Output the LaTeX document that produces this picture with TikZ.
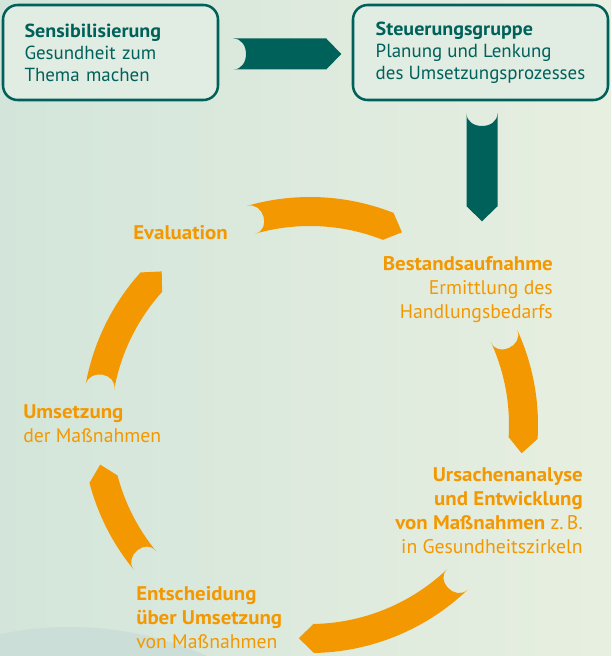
\documentclass[tikz,border=0pt]{standalone}
\usepackage{fontspec}
\setmainfont[BoldFeatures={FakeStretch=1.06}]{PT Sans}
\usetikzlibrary{calc}

\definecolor{leadgreen}{HTML}{00615A}
\definecolor{cycleorange}{HTML}{F39800}
\definecolor{bgleft}{HTML}{D3E5DA}
\definecolor{bgright}{HTML}{E7EFE0}
\definecolor{bgdisc}{HTML}{CBDED8}
\definecolor{boxfill}{HTML}{E1ECE2}

\tikzset{
  stepbox/.style={draw=leadgreen, line width=1.9pt, rounded corners=11pt, fill=boxfill,
    text=leadgreen, align=left, inner xsep=15.75pt, minimum height=71.25pt,
    font=\fontsize{14.2}{16.5}\selectfont},
  phase/.style={text=cycleorange, inner sep=0pt, font=\fontsize{14.8}{18}\selectfont},
}

% band arrow along the cycle: tail angle, head angle, tip angle
\newcommand{\cyclearrow}[3]{%
  \fill[cycleorange] (#1:\rout) arc[start angle=#1, end angle=#2, radius=\rout]
    -- (#3:\rmid) -- (#2:\rin) arc[start angle=#2, end angle=#1, radius=\rin]
    .. controls (#1+4.9:\rin) and (#1+4.3:\rout) .. (#1:\rout) -- cycle;}

% straight arrow from the origin along x
\newcommand{\greenarrow}[1]{%
  \fill[leadgreen] (0,-15.5) -- (#1-15,-15.5) -- (#1,0) -- (#1-15,15.5) -- (0,15.5)
    .. controls (17,15.5) and (17,-15.5) .. (0,-15.5) -- cycle;}

\begin{document}
\begin{tikzpicture}[x=0.75pt,y=-0.75pt]
  % Cycle
  \def\rin{199}
  \def\rout{228}
  \def\rmid{213.5}

  \useasboundingbox (0,0) rectangle (611,656);
  \clip (0,0) rectangle (611,656);
  \shade[left color=bgleft, right color=bgright] (0,0) rectangle (611,656);
  \fill[bgdisc] (70,965) circle (338);

  \node[stepbox, minimum width=161.25pt, text width=129pt] (sensib) at (110.5,52.5)
    {\textbf{Sensibilisierung}\\Gesundheit zum\\Thema machen};
  \node[stepbox, minimum width=191.25pt, inner xsep=0pt] (steuer) at (480.5,52.5)
    {\textbf{Steuerungsgruppe}\\Planung und Lenkung\\des Umsetzungsprozesses};

  \begin{scope}[shift={($(sensib.east)+(14,1.5)$)}]
    \greenarrow{108}
  \end{scope}
  \begin{scope}[shift={($(steuer.south)+(1.5,12)$)}, rotate=-90]
    \greenarrow{108}
  \end{scope}

  \begin{scope}[shift={(310,425)}]
    \cyclearrow{-106}{-68.5}{-64.5}
    \cyclearrow{-24.6}{3.5}{7.6}
    \cyclearrow{46.3}{89}{93}
    \cyclearrow{140.6}{165.3}{169.3}
    \cyclearrow{190.2}{222}{226}
  \end{scope}

  \node[phase, anchor=west] (evalu) at (133,233) {\textbf{Evaluation}};
  \node[phase, anchor=north east, align=right] (bestand) at (553,256.5)
    {\textbf{Bestandsaufnahme}\\Ermittlung des\\Handlungsbedarfs};
  \node[phase, anchor=north east, align=right] (ursachen) at (583,467)
    {\textbf{Ursachenanalyse}\\\textbf{und Entwicklung}\\\textbf{von Maßnahmen} z.\,B.\\in Gesundheitszirkeln};
  \node[phase, anchor=north west, align=left] (entscheid) at (136,586.5)
    {\textbf{Entscheidung}\\\textbf{über Umsetzung}\\von Maßnahmen};
  \node[phase, anchor=north west, align=left] (umsetz) at (23,404)
    {\textbf{Umsetzung}\\der Maßnahmen};
\end{tikzpicture}
\end{document}
